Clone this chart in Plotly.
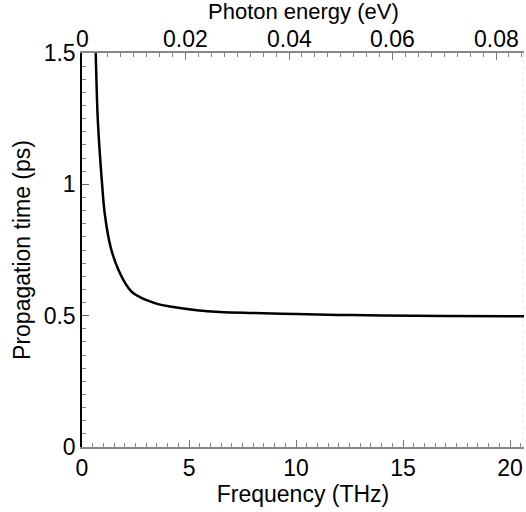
import plotly.graph_objects as go

# Data
freq_thz = [0.60, 0.64, 0.73, 0.83, 0.93, 1.06, 1.34, 1.70, 2.17, 2.40,
            2.80, 3.02, 3.55, 4.11, 5.36, 6.45, 8.0, 10.0, 12.0, 14.0, 17.0, 20.7]
prop_time_ps = [1.62, 1.50, 1.26, 1.12, 1.01, 0.89, 0.76, 0.675, 0.605, 0.585,
                0.567, 0.559, 0.544, 0.535, 0.521, 0.514, 0.510, 0.506, 0.503, 0.501, 0.499, 0.498]

x_ticks = [0, 5, 10, 15, 20]
y_ticks = [0, 0.5, 1, 1.5]
y_tick_text = ["0", "0.5", "1", "1.5"]
ev_ticks = [0, 0.02, 0.04, 0.06, 0.08]
ev_tick_text = ["0", "0.02", "0.04", "0.06", "0.08"]

X_MAX = 20.65
THZ_TO_EV = 0.0041357

FONT = "Liberation Sans, Arial, sans-serif"
TICK_SIZE = 23

fig = go.Figure()
fig.add_trace(go.Scatter(
    x=freq_thz, y=prop_time_ps, mode="lines",
    line=dict(color="black", width=2.5, shape="spline", smoothing=1.0),
    showlegend=False, hoverinfo="skip"))
# invisible trace to activate top axis
fig.add_trace(go.Scatter(x=[0, X_MAX * THZ_TO_EV], y=[None, None], xaxis="x2",
                         mode="lines", showlegend=False, hoverinfo="skip"))

fig.update_layout(
    width=526, height=512,
    margin=dict(l=82, r=2, t=53, b=65, autoexpand=False),
    paper_bgcolor="white", plot_bgcolor="white",
    font=dict(family=FONT, size=TICK_SIZE, color="black"),
    xaxis=dict(
        range=[0, X_MAX], tickvals=x_ticks, ticktext=[str(v) for v in x_ticks],
        ticks="inside", ticklen=7, tickcolor="#777777", tickwidth=1,
        showline=True, linecolor="#888888", linewidth=1.5,
        showgrid=False, zeroline=False, automargin=False,
        minor=dict(dtick=0.5, tick0=0, ticks="inside", ticklen=4, tickcolor="#888888", tickwidth=1, showgrid=False),
        title=dict(text="Frequency (THz)", font=dict(size=23), standoff=0),
        tickfont=dict(size=TICK_SIZE),
    ),
    xaxis2=dict(
        overlaying="x", side="top", anchor="y",
        range=[0, X_MAX * THZ_TO_EV], tickvals=ev_ticks, showticklabels=False,
        ticks="inside", ticklen=7, tickcolor="#777777", tickwidth=1,
        showline=True, linecolor="#888888", linewidth=1.5,
        showgrid=False, zeroline=False, automargin=False,
        minor=dict(dtick=0.0025, tick0=0, ticks="inside", ticklen=4, tickcolor="#888888", tickwidth=1, showgrid=False),
    ),
    yaxis=dict(
        range=[0, 1.5], tickvals=y_ticks, ticktext=y_tick_text,
        ticks="inside", ticklen=7, tickcolor="#666666", tickwidth=1,
        showline=True, linecolor="black", linewidth=1.5,
        showgrid=False, zeroline=False, automargin=False,
        minor=dict(dtick=0.05, tick0=0, ticks="inside", ticklen=4, tickcolor="#888888", tickwidth=1, showgrid=False),
        title=dict(text="Propagation time (ps)", font=dict(size=23), standoff=7),
        tickfont=dict(size=TICK_SIZE),
    ),
)

# Top axis tick labels, positioned via the top (eV) axis
for val, txt in zip(ev_ticks, ev_tick_text):
    fig.add_annotation(text=txt, xref="x2", yref="paper", x=val, y=1.0355,
                       xanchor="center", yanchor="middle", showarrow=False,
                       font=dict(size=TICK_SIZE, family=FONT, color="black"))

# Top axis title
fig.add_annotation(text="Photon energy (eV)", xref="paper", yref="paper",
                   x=0.5, y=1.1041, xanchor="center", yanchor="middle",
                   showarrow=False, font=dict(size=22, family=FONT, color="black"))

fig.add_shape(type="line", xref="paper", yref="paper", x0=0.998, x1=0.998, y0=0, y1=1,
              line=dict(color="#e6e6e6", width=1, dash="dot"))

fig.write_html("out.html", config={"displayModeBar": False},
               post_script="document.body.style.margin='0';document.body.style.padding='0';")
